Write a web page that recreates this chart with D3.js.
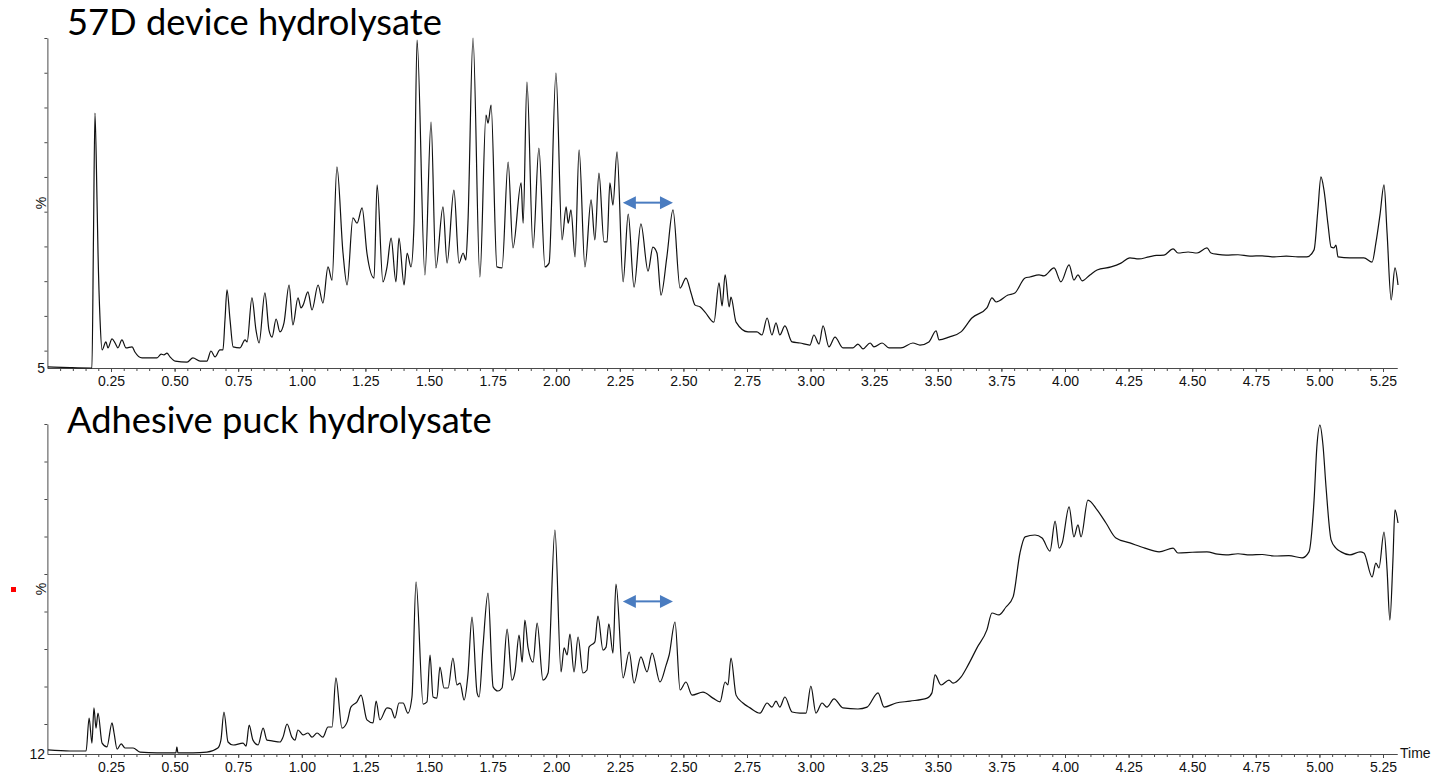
<!DOCTYPE html>
<html>
<head>
<meta charset="utf-8">
<script src="https://cdn.jsdelivr.net/npm/d3@7"></script>
<style>
  body { margin: 0; background: #fff; }
</style>
</head>
<body>
<div id="chart"></div>
<script>
// Chromatogram traces: [time (min), intensity (%)]
const deviceTrace = [
  [0.002,5.3],[0.089,5.1],[0.171,5.0],[0.175,5.0],[0.181,41.9],[0.187,78.4],[0.195,53.4],[0.199,38.1],
  [0.207,18.8],[0.215,10.2],[0.230,12.5],[0.238,10.8],[0.254,13.4],[0.266,12.2],[0.277,10.8],[0.293,13.1],
  [0.309,10.8],[0.333,11.1],[0.344,9.6],[0.372,7.9],[0.403,7.9],[0.431,7.9],[0.447,9.0],[0.458,8.8],
  [0.470,9.3],[0.482,8.2],[0.502,7.0],[0.549,6.7],[0.572,7.9],[0.600,7.0],[0.627,7.0],[0.643,9.9],
  [0.659,8.2],[0.678,10.2],[0.690,10.2],[0.698,18.8],[0.706,27.5],[0.718,18.8],[0.730,11.1],[0.757,10.8],
  [0.777,13.1],[0.785,12.5],[0.804,25.2],[0.820,15.9],[0.832,12.2],[0.855,26.6],[0.871,15.9],[0.883,13.9],
  [0.899,19.1],[0.914,15.4],[0.930,18.0],[0.950,28.9],[0.965,17.4],[0.985,25.2],[0.997,22.3],[1.005,23.1],
  [1.024,26.9],[1.040,21.7],[1.064,28.9],[1.083,23.7],[1.103,34.1],[1.119,30.3],[1.138,62.9],[1.162,38.1],
  [1.178,28.9],[1.201,48.2],[1.217,46.7],[1.237,51.1],[1.256,38.1],[1.284,30.9],[1.296,57.7],[1.319,29.8],
  [1.335,34.1],[1.351,42.4],[1.370,29.8],[1.382,42.4],[1.402,28.9],[1.414,38.1],[1.429,34.1],[1.441,46.2],
  [1.453,99.4],[1.484,31.8],[1.508,75.8],[1.527,33.8],[1.555,51.4],[1.571,35.2],[1.598,56.2],[1.618,35.2],
  [1.634,38.1],[1.645,36.1],[1.653,46.7],[1.673,100],[1.700,31.2],[1.724,77.8],[1.732,75.5],[1.744,80.7],
  [1.767,34.1],[1.787,33.8],[1.811,64.3],[1.830,39.6],[1.862,58.3],[1.870,46.7],[1.885,87.3],[1.909,39.6],
  [1.932,68.3],[1.956,34.1],[1.972,35.2],[1.999,89.9],[2.023,41.9],[2.039,51.4],[2.047,46.7],[2.058,50.5],
  [2.074,37.0],[2.090,67.8],[2.113,34.1],[2.137,53.4],[2.152,41.9],[2.168,61.1],[2.188,41.3],[2.200,41.3],
  [2.211,58.3],[2.223,51.9],[2.239,67.2],[2.263,29.8],[2.283,49.3],[2.306,28.3],[2.333,46.5],[2.361,32.9],
  [2.380,39.8],[2.396,38.1],[2.412,26.0],[2.435,37.0],[2.459,50.5],[2.487,28.0],[2.510,30.9],[2.530,26.6],
  [2.546,23.1],[2.565,22.6],[2.585,21.1],[2.620,18.2],[2.640,29.5],[2.652,22.9],[2.664,31.8],[2.680,22.6],
  [2.687,25.4],[2.707,18.2],[2.754,15.4],[2.789,15.4],[2.809,14.5],[2.829,19.4],[2.848,14.5],[2.864,18.0],
  [2.879,14.5],[2.899,17.1],[2.927,12.5],[2.958,12.2],[2.997,11.6],[3.013,14.5],[3.033,11.9],[3.049,17.1],
  [3.072,11.1],[3.096,13.9],[3.127,10.8],[3.167,10.8],[3.186,11.9],[3.206,10.5],[3.234,12.2],[3.249,11.1],
  [3.281,12.2],[3.308,10.8],[3.355,10.8],[3.402,12.2],[3.430,11.6],[3.465,12.5],[3.493,15.7],[3.505,13.1],
  [3.544,13.9],[3.591,15.4],[3.634,19.4],[3.693,22.3],[3.713,25.2],[3.729,24.0],[3.776,26.0],[3.803,26.6],
  [3.843,30.9],[3.862,31.2],[3.898,31.8],[3.917,31.5],[3.957,33.8],[3.984,29.8],[4.016,34.7],[4.035,30.3],
  [4.051,31.8],[4.067,30.1],[4.098,31.8],[4.126,33.2],[4.181,34.1],[4.220,35.2],[4.255,36.7],[4.290,36.4],
  [4.330,37.0],[4.360,37.4],[4.389,37.5],[4.425,39.3],[4.444,38.1],[4.484,38.4],[4.519,38.1],[4.558,39.6],
  [4.574,38.1],[4.600,37.7],[4.633,37.5],[4.680,37.6],[4.727,37.2],[4.775,37.3],[4.822,37.0],[4.870,37.2],
  [4.916,37.0],[4.951,37.0],[4.979,39.0],[4.994,50.5],[5.006,60.0],[5.018,56.2],[5.034,46.2],[5.046,39.8],
  [5.057,39.6],[5.065,40.4],[5.073,37.0],[5.120,36.7],[5.175,36.7],[5.207,35.5],[5.222,41.0],[5.238,49.0],
  [5.254,57.7],[5.266,43.9],[5.282,24.6],[5.297,33.8],[5.309,28.9]
];

const puckTrace = [
  [0.002,13.1],[0.089,12.8],[0.152,12.8],[0.164,21.6],[0.175,14.9],[0.183,24.3],[0.191,18.9],[0.199,22.9],
  [0.215,14.9],[0.234,13.9],[0.254,20.3],[0.262,17.6],[0.274,13.3],[0.290,14.7],[0.305,13.6],[0.337,13.6],
  [0.364,12.5],[0.431,12.3],[0.505,12.3],[0.509,13.9],[0.513,12.3],[0.572,12.3],[0.627,12.5],[0.670,13.6],
  [0.682,15.7],[0.694,23.2],[0.710,15.2],[0.730,14.4],[0.769,14.9],[0.781,14.1],[0.793,19.7],[0.808,15.7],
  [0.828,14.4],[0.848,18.9],[0.863,15.7],[0.883,15.5],[0.914,15.2],[0.926,16.5],[0.942,20.0],[0.961,16.5],
  [0.973,15.7],[0.985,18.4],[1.005,17.1],[1.024,17.6],[1.040,16.5],[1.060,17.6],[1.083,16.5],[1.103,19.2],
  [1.119,19.2],[1.134,32.3],[1.158,18.9],[1.178,20.5],[1.193,24.5],[1.217,25.9],[1.233,27.7],[1.256,21.1],
  [1.280,20.3],[1.292,26.1],[1.307,21.1],[1.335,24.3],[1.351,24.0],[1.366,21.6],[1.382,25.6],[1.398,25.6],
  [1.417,22.9],[1.433,27.2],[1.449,57.9],[1.477,25.3],[1.492,25.9],[1.504,38.4],[1.516,27.2],[1.531,26.9],
  [1.543,35.2],[1.559,29.6],[1.575,29.6],[1.594,37.6],[1.610,30.4],[1.622,30.9],[1.638,26.4],[1.653,33.1],
  [1.669,48.5],[1.689,28.3],[1.697,27.2],[1.712,40.5],[1.732,54.9],[1.752,29.9],[1.771,28.8],[1.787,29.6],
  [1.807,45.3],[1.826,31.7],[1.838,33.9],[1.854,43.7],[1.866,36.5],[1.877,47.7],[1.889,40.5],[1.909,36.5],
  [1.925,46.9],[1.948,31.7],[1.968,33.6],[1.995,71.7],[2.019,33.9],[2.031,40.3],[2.043,38.4],[2.054,44.0],
  [2.070,33.9],[2.086,43.2],[2.105,33.6],[2.121,34.4],[2.129,40.5],[2.152,41.9],[2.164,48.8],[2.184,39.7],
  [2.196,40.5],[2.207,46.7],[2.223,38.9],[2.235,57.3],[2.263,32.3],[2.287,39.2],[2.306,30.9],[2.333,37.9],
  [2.357,33.9],[2.377,38.9],[2.408,31.2],[2.432,35.7],[2.444,38.4],[2.467,47.2],[2.487,29.1],[2.510,31.2],
  [2.534,27.7],[2.577,28.5],[2.616,26.9],[2.644,25.9],[2.664,31.2],[2.675,30.4],[2.687,37.6],[2.707,27.7],
  [2.734,25.6],[2.762,24.3],[2.801,22.9],[2.829,25.6],[2.848,24.5],[2.864,26.1],[2.879,24.5],[2.899,27.2],
  [2.927,23.2],[2.958,22.9],[2.982,22.9],[3.001,30.1],[3.021,22.9],[3.045,25.6],[3.064,24.5],[3.092,26.7],
  [3.127,24.3],[3.186,24.0],[3.222,24.5],[3.265,28.3],[3.289,24.5],[3.336,25.6],[3.391,26.1],[3.458,26.9],
  [3.477,28.3],[3.489,33.1],[3.513,30.4],[3.544,31.7],[3.560,30.9],[3.591,32.5],[3.619,35.7],[3.654,40.3],
  [3.693,45.1],[3.713,49.6],[3.740,49.1],[3.768,51.2],[3.796,53.9],[3.823,65.6],[3.843,69.9],[3.882,70.4],
  [3.910,69.6],[3.941,66.1],[3.961,74.1],[3.977,66.9],[3.989,68.3],[4.016,77.9],[4.035,69.9],[4.051,73.1],
  [4.063,69.9],[4.090,79.7],[4.126,77.1],[4.161,73.6],[4.200,69.6],[4.255,68.3],[4.314,66.9],[4.370,65.9],
  [4.425,66.9],[4.444,65.6],[4.500,65.8],[4.558,65.9],[4.600,65.3],[4.633,65.1],[4.680,65.4],[4.727,65.1],
  [4.775,65.2],[4.822,64.8],[4.880,64.9],[4.932,64.3],[4.959,65.9],[4.979,79.7],[4.990,93.9],[5.002,99.7],
  [5.014,94.4],[5.026,83.2],[5.046,69.1],[5.065,66.9],[5.085,65.9],[5.120,65.1],[5.160,65.9],[5.175,65.6],
  [5.207,59.2],[5.222,62.9],[5.234,61.6],[5.254,71.2],[5.266,61.1],[5.277,47.7],[5.289,63.7],[5.297,77.1],
  [5.309,73.6]
];

const panelTitles = ["57D device hydrolysate", "Adhesive puck hydrolysate"];
const floorLabels = ["5", "12"];
const intensityFloors = [5, 12];
const timeTicks = [0.25, 0.50, 0.75, 1.00, 1.25, 1.50, 1.75, 2.00, 2.25, 2.50,
                   2.75, 3.00, 3.25, 3.50, 3.75, 4.00, 4.25, 4.50, 4.75, 5.00, 5.25];
const intensityTicks = [10, 20, 30, 40, 50, 60, 70, 80, 90, 100];
// annotation arrows: time span and intensity level per panel
const arrowSpan = [2.262, 2.459];
const arrowLevels = [52.6, 52.7];

const width = 1450;
const height = 778;
const axisColor = "#4a4a4a";
const arrowColor = "#4a7cc0";

const svg = d3.select("#chart").append("svg")
  .attr("width", width)
  .attr("height", height)
  .style("font-family", "'Liberation Sans', Arial, sans-serif");

// shared time scale
const x = d3.scaleLinear().domain([0, 5.305]).range([47.4, 1397]);

const panels = [
  { trace: deviceTrace, top: 38, bottom: 368, titleY: 35 },
  { trace: puckTrace, top: 424, bottom: 754, titleY: 433 }
];

panels.forEach((p, i) => {
  const y = d3.scaleLinear().domain([intensityFloors[i], 100]).range([p.bottom, p.top]);
  const g = svg.append("g");

  // title
  g.append("text")
    .attr("x", 67)
    .attr("y", p.titleY)
    .style("font-family", "Lato, 'Open Sans', sans-serif")
    .style("font-size", "36.3px")
    .attr("fill", "#000")
    .text(panelTitles[i]);

  // x axis: minor then major ticks
  g.append("g")
    .attr("transform", `translate(0,${p.bottom})`)
    .attr("color", axisColor)
    .call(d3.axisBottom(x)
      .tickValues(d3.range(0.05, 5.30, 0.05))
      .tickSize(3)
      .tickSizeOuter(0)
      .tickFormat(""));

  g.append("g")
    .attr("transform", `translate(0,${p.bottom})`)
    .attr("color", axisColor)
    .call(d3.axisBottom(x)
      .tickValues(timeTicks)
      .tickSize(4)
      .tickSizeOuter(0)
      .tickPadding(4)
      .tickFormat(d3.format(".2f")))
    .call(ax => ax.selectAll("text")
      .attr("fill", "#111")
      .style("font-size", "14px")
      .style("font-family", "'Liberation Sans', Arial, sans-serif"));

  // y axis (only ticks inside the panel's range)
  g.append("g")
    .attr("transform", `translate(${x(0)},0)`)
    .attr("color", axisColor)
    .call(d3.axisLeft(y)
      .tickValues(intensityTicks.filter(v => v > intensityFloors[i]))
      .tickSize(3)
      .tickSizeOuter(0)
      .tickFormat(""));

  g.append("text")
    .attr("x", 45)
    .attr("y", y(intensityFloors[i]))
    .attr("dy", "0.36em")
    .attr("text-anchor", "end")
    .style("font-size", "14px")
    .attr("fill", "#111")
    .text(floorLabels[i]);

  g.append("text")
    .attr("transform", `translate(46,${(p.top + p.bottom) / 2}) rotate(-90)`)
    .attr("text-anchor", "middle")
    .style("font-size", "14px")
    .attr("fill", "#111")
    .text("%");

  // trace
  const line = d3.line()
    .curve(d3.curveMonotoneX)
    .x(d => x(d[0]))
    .y(d => y(d[1]));

  g.append("path")
    .datum(p.trace)
    .attr("d", line)
    .attr("fill", "none")
    .attr("stroke", "#111")
    .attr("stroke-width", 1.2)
    .attr("stroke-linejoin", "round");

  // double-headed arrow annotation
  const ax0 = x(arrowSpan[0]);
  const ax1 = x(arrowSpan[1]);
  const ay = y(arrowLevels[i]);
  const head = 13, half = 6.5;
  g.append("line")
    .attr("x1", ax0 + head - 1).attr("x2", ax1 - head + 1)
    .attr("y1", ay).attr("y2", ay)
    .attr("stroke", arrowColor)
    .attr("stroke-width", 2);
  g.append("path")
    .attr("d", `M${ax0},${ay}L${ax0 + head},${ay - half}L${ax0 + head},${ay + half}Z` +
               `M${ax1},${ay}L${ax1 - head},${ay - half}L${ax1 - head},${ay + half}Z`)
    .attr("fill", arrowColor);
});

// "Time" label at the end of the lower axis
svg.append("text")
  .attr("x", x(5.305) + 3)
  .attr("y", 754)
  .attr("dy", "0.3em")
  .style("font-size", "14px")
  .attr("fill", "#111")
  .text("Time");

// small red marker at the left edge of the lower panel
svg.append("rect")
  .attr("x", 11)
  .attr("y", 587)
  .attr("width", 5)
  .attr("height", 5)
  .attr("fill", "#ff0000");
</script>
</body>
</html>
